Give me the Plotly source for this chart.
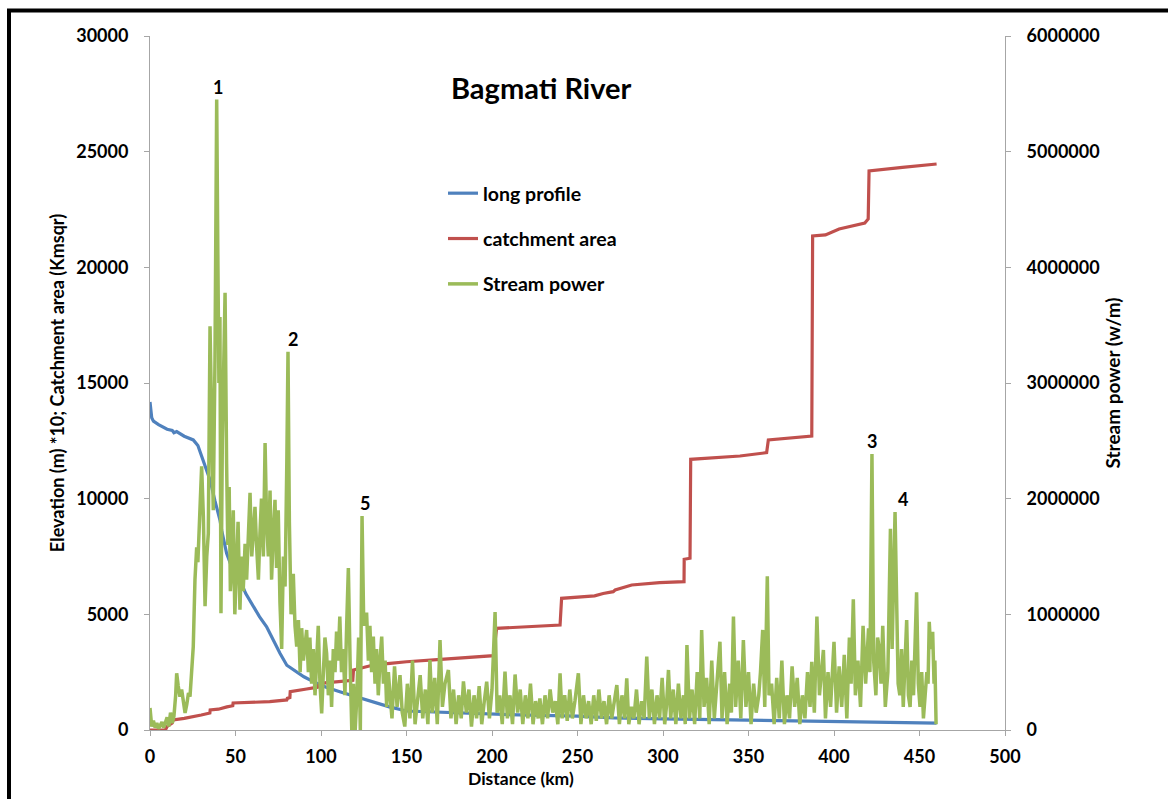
import plotly.graph_objects as go

# ---- Long profile: elevation (m) x 10 along the river ----
profile_km = [0, 1, 2, 5, 10, 13, 14, 15.6, 20, 25.3, 28, 30.2, 33, 35.1, 38, 40.9, 42, 44.8,
              48, 52.6, 56, 60.4, 64, 68.2, 72, 76, 80, 83.8, 90, 95.5, 103, 111, 120, 130.6,
              140, 150, 170, 200, 216, 250, 271, 300, 350, 400, 440, 460]
profile_elev = [14180, 13500, 13350, 13200, 13000, 12950, 12850, 12900, 12700, 12540, 12300,
                11815, 11200, 10807, 9900, 9078, 8600, 7638, 7000, 6484, 5900, 5330, 4900,
                4465, 3900, 3315, 2800, 2594, 2300, 2089, 1850, 1656, 1450, 1224, 1000, 820,
                760, 700, 650, 600, 520, 480, 430, 370, 330, 300]

# ---- Catchment area (km²), stepped at tributary confluences ----
catch_km = [0, 9, 10, 13, 13.6, 20, 30, 35, 35.2, 40, 45, 48.4, 48.6, 60, 70, 80, 80.3, 81.8,
            82, 91.6, 98, 99.4, 111, 118.6, 119, 125, 130.6, 140.4, 150, 170, 200.8, 202.7,
            239.8, 240.7, 260, 265, 270.9, 272, 281.7, 298, 312.3, 312.4, 315.8, 316.2, 345,
            360.6, 361.6, 387, 387.5, 395, 403, 418, 420, 420.5, 430, 440, 460]
catch_area = [0, 0, 150, 300, 432, 500, 650, 735, 866, 900, 1000, 1050, 1167, 1200, 1224,
              1300, 1368, 1400, 1656, 1772, 1850, 2017, 2089, 2150, 2594, 2700, 2810, 2882,
              2950, 3050, 3213, 4394, 4538, 5691, 5800, 5900, 5979, 6050, 6268, 6369, 6412,
              7381, 7425, 11700, 11844, 11988, 12536, 12709, 21354, 21400, 21657, 21916, 22090,
              24164, 24250, 24320, 24467]

# ---- Stream power (kW/m) along the river ----
sp_km = [0, 0.5, 1, 2, 3, 4, 5, 6, 7, 8, 9, 10, 11, 12, 13, 14, 15, 15.6, 16.5, 17.5, 18.5,
         19.5, 20.5, 21.5, 22.5, 23.4, 24.3, 25.3, 26.3, 27.3, 28, 29, 30.2, 31.2, 32.2, 33.2,
         34.1, 35.1, 36, 37, 38, 39, 39.7, 40.3, 40.9, 41.5, 42.3, 43.2, 43.9, 44.8, 45.5,
         46.3, 47, 47.8, 48.7, 49.6, 50.7, 51.5, 52.6, 53.5, 54.5, 55.6, 56.5, 57.5, 58.5,
         59.5, 60.5, 61.4, 62.3, 63.4, 64.3, 65.2, 66.3, 67.3, 68.2, 69.2, 70.2, 71.1, 72.1,
         73.1, 74, 75, 76, 77, 78, 79, 80, 80.7, 81.5, 82.5, 83.8, 84.8, 85.8, 86.8, 87.8,
         88.7, 89.7, 90.6, 91.6, 92.6, 93.5, 94.5, 95.5, 96.5, 97.4, 98.4, 99.4, 100.4, 101.4,
         102.3, 103.3, 104.3, 105.3, 106.2, 107.2, 108.2, 109.1, 110, 111, 112, 113, 114, 115,
         116, 117, 118, 119, 120, 121, 122, 123, 124, 125, 125.8, 126.7, 127.7, 128.6, 129.6,
         130.6, 131.6, 132.5, 133.5, 134.5, 135.5, 136.5, 137.5, 138.4, 139.4, 140.4, 141.5,
         143, 144.5, 146.2, 147.5, 149, 150.5, 152, 153.5, 155, 156.5, 158, 159.5, 161, 162.5,
         163.7, 165, 166.5, 168, 169.6, 171, 172.5, 174.5, 176, 177.5, 179, 180.5, 182, 183.3,
         185, 186.5, 188, 189.5, 191, 192.5, 194, 195.5, 196.9, 198.5, 200, 201.8, 203, 204.5,
         206, 207.6, 209, 210.5, 212, 213.5, 215, 216.5, 218, 219.5, 221, 222.5, 224, 225.5,
         227, 228, 229.5, 231, 232.5, 234, 235.5, 237, 238.5, 239.8, 241, 242.5, 244, 245.5,
         247, 248.5, 250.5, 252, 253.5, 255, 256.5, 258, 259.5, 261, 262.5, 264, 265.5, 267,
         268.5, 270, 271.5, 273, 274.5, 276, 277.5, 278.8, 280, 281.5, 283, 284.5, 286, 287.5,
         289, 290.5, 292, 293.5, 295, 296.5, 298, 299.5, 301, 302, 303.2, 304.5, 306, 307.5,
         309, 310.5, 312, 313, 314, 315.5, 317, 318.5, 320, 321.5, 322.6, 324, 325.5, 327,
         328.5, 330, 331.5, 333.3, 334.5, 336, 337.5, 339, 340, 341.2, 342.5, 344, 345.5, 347,
         348.5, 350, 351.5, 353, 354.5, 356, 357, 358.3, 359.5, 361, 362, 363.5, 365, 366.5,
         368, 369.5, 371, 372.5, 374, 375.5, 377, 378.5, 380, 381.5, 383, 384.5, 386, 387,
         388.5, 390, 391.5, 393.8, 395, 396.5, 398, 400, 401.5, 403, 404.5, 406, 407.5, 409,
         410, 411.3, 412.5, 414, 415.5, 417, 418.5, 420.2, 421, 422.2, 423.2, 424.5, 425.5,
         426.5, 427.5, 428.5, 430, 431.5, 433, 434, 435.7, 436.7, 437.5, 438.5, 439.5, 440.5,
         441.5, 442.5, 443.5, 444.5, 445.5, 446.5, 447.5, 448.3, 449.3, 450.3, 451.3, 452.3,
         453.3, 454.3, 455, 455.7, 456.5, 457.7, 458.5, 459, 459.7]
sp_kw = [190, 60, 30, 80, 20, 60, 10, 40, 70, 20, 60, 110, 30, 150, 60, 120, 300, 490, 380,
         288, 350, 250, 147, 220, 320, 288, 480, 720, 1300, 1580, 1450, 1900, 2280, 1850, 1070,
         1500, 1700, 3490, 2600, 1900, 3200, 5450, 4060, 3000, 3570, 1010, 2500, 3310, 3780,
         2300, 1600, 2100, 1200, 1410, 1900, 1000, 1470, 1800, 1040, 1500, 1200, 1610, 1300,
         1800, 2050, 1500, 1700, 1930, 1600, 1300, 1700, 2000, 1500, 2480, 1800, 1500, 2070,
         1300, 1700, 1990, 1400, 1900, 1100, 700, 1500, 1240, 2300, 3270, 1800, 1000, 1350,
         900, 720, 950, 500, 880, 600, 750, 865, 500, 800, 400, 700, 300, 600, 900, 400, 144,
         500, 800, 663, 300, 600, 200, 700, 500, 850, 600, 980, 500, 700, 300, 900, 1400, 600,
         0, 400, 0, 300, 800, 0, 1850, 900, 1000, 1000, 600, 900, 500, 807, 400, 700, 300, 600,
         807, 400, 600, 200, 500, 300, 100, 550, 200, 475, 150, 30, 400, 100, 600, 50, 300, 475,
         100, 350, 50, 605, 150, 450, 50, 778, 200, 400, 519, 100, 350, 50, 300, 100, 420, 150,
         350, 30, 300, 100, 380, 50, 250, 418, 100, 350, 1020, 150, 300, 50, 504, 100, 300, 50,
         480, 150, 350, 50, 300, 100, 400, 50, 250, 100, 274, 50, 300, 100, 350, 150, 250, 50,
         490, 100, 300, 80, 350, 100, 250, 490, 50, 300, 100, 250, 50, 300, 80, 350, 100, 250,
         50, 300, 100, 250, 389, 50, 300, 100, 447, 50, 200, 100, 350, 50, 250, 100, 634, 100,
         350, 50, 300, 100, 450, 50, 200, 519, 100, 350, 50, 400, 100, 300, 50, 735, 100, 350,
         50, 500, 100, 865, 200, 450, 50, 600, 100, 400, 763, 100, 500, 50, 400, 150, 980, 200,
         600, 100, 778, 200, 500, 50, 400, 150, 300, 500, 865, 200, 1330, 300, 400, 50, 450,
         100, 600, 50, 300, 100, 550, 200, 450, 50, 300, 100, 500, 200, 590, 150, 980, 300, 692,
         100, 500, 200, 763, 150, 550, 200, 650, 100, 800, 400, 1130, 300, 600, 200, 900, 400,
         879, 500, 2386, 600, 300, 800, 700, 400, 900, 200, 500, 1740, 700, 1885, 800, 400, 300,
         700, 200, 600, 951, 300, 200, 600, 300, 800, 1190, 400, 200, 500, 100, 300, 500, 400,
         936, 700, 850, 400, 600, 50]
sp_w = [v * 1000 for v in sp_kw]

# ---- Labelled stream-power peaks ----
peak_labels = ["1", "2", "5", "3", "4"]
peak_km = [39, 80.7, 124, 422.2, 435.7]
peak_kw = [5450, 3270, 1850, 2386, 1885]
peak_dx = [1, 5, 3, 0, 8]

BLUE, RED, GREEN = "#4F81BD", "#C0504D", "#9BBB59"
FONT = "Lato"
AXIS_GREY = "#A6A6A6"

# plot area in pixels: x 150..1005, y 36..730
PX_L, PX_R, PX_T, PX_B = 150, 1005, 36, 730


def paper_x(px):
    return (px - PX_L) / (PX_R - PX_L)


def paper_y(py):
    return (PX_B - py) / (PX_B - PX_T)


def bold(size):
    return dict(family=FONT, size=size, color="black", weight="bold")


fig = go.Figure()
fig.add_trace(go.Scatter(x=profile_km, y=profile_elev, mode="lines", name="long profile",
                         line=dict(color=BLUE, width=3.2), legendgroup="a"))
fig.add_trace(go.Scatter(x=catch_km, y=catch_area, mode="lines", name="catchment area",
                         line=dict(color=RED, width=3.2), legendgroup="b"))
fig.add_trace(go.Scatter(x=sp_km, y=sp_w, mode="lines", name="Stream power", yaxis="y2",
                         line=dict(color=GREEN, width=3.5), legendgroup="c"))

annotations = [
    dict(text="Bagmati River", x=paper_x(541), y=paper_y(88), xref="paper", yref="paper",
         xanchor="center", yanchor="middle", showarrow=False, font=bold(29)),
    dict(text="Distance (km)", x=paper_x(521), y=paper_y(778), xref="paper", yref="paper",
         xanchor="center", yanchor="middle", showarrow=False, font=bold(17.5)),
]
for lab, km, kw, dx in zip(peak_labels, peak_km, peak_kw, peak_dx):
    annotations.append(dict(text=lab, x=km, y=kw * 1000, xref="x", yref="y2",
                            xanchor="center", yanchor="bottom", showarrow=False,
                            xshift=dx, yshift=0, font=bold(18)))

axis_common = dict(showgrid=False, zeroline=False, showline=True, linecolor=AXIS_GREY,
                   linewidth=1, ticks="outside", ticklen=5, tickcolor=AXIS_GREY,
                   tickfont=bold(18), tickformat="d")

fig.update_layout(
    width=1168, height=799,
    margin=dict(l=PX_L, r=1168 - PX_R, t=PX_T, b=799 - PX_B),
    paper_bgcolor="white", plot_bgcolor="white",
    font=dict(family=FONT, color="black"),
    xaxis=dict(range=[0, 500], tickvals=[0, 50, 100, 150, 200, 250, 300, 350, 400, 450, 500],
               ticklabelstandoff=5, **axis_common),
    yaxis=dict(range=[0, 30000], tickvals=[0, 5000, 10000, 15000, 20000, 25000, 30000],
               ticklabelstandoff=12,
               title=dict(text="Elevation (m) *10; Catchment area (Kmsqr)", font=bold(18),
                          standoff=6),
               **axis_common),
    yaxis2=dict(range=[0, 6000000], overlaying="y", side="right",
                tickvals=[0, 1000000, 2000000, 3000000, 4000000, 5000000, 6000000],
                ticklabelstandoff=12,
                title=dict(text="Stream power (w/m)", font=bold(19), standoff=8),
                **axis_common),
    legend=dict(x=paper_x(443), y=paper_y(174), xanchor="left", yanchor="top",
                bgcolor="rgba(0,0,0,0)", font=bold(19.5), tracegroupgap=17,
                traceorder="grouped", itemwidth=30),
    annotations=annotations,
    shapes=[dict(type="path", xref="paper", yref="paper",
                 path="M %f,%f L %f,%f L %f,%f" % (paper_x(9), -0.2, paper_x(9),
                                                   paper_y(10.5), 1.3, paper_y(10.5)),
                 line=dict(color="black", width=4))],
)

fig.write_html("out.html")
